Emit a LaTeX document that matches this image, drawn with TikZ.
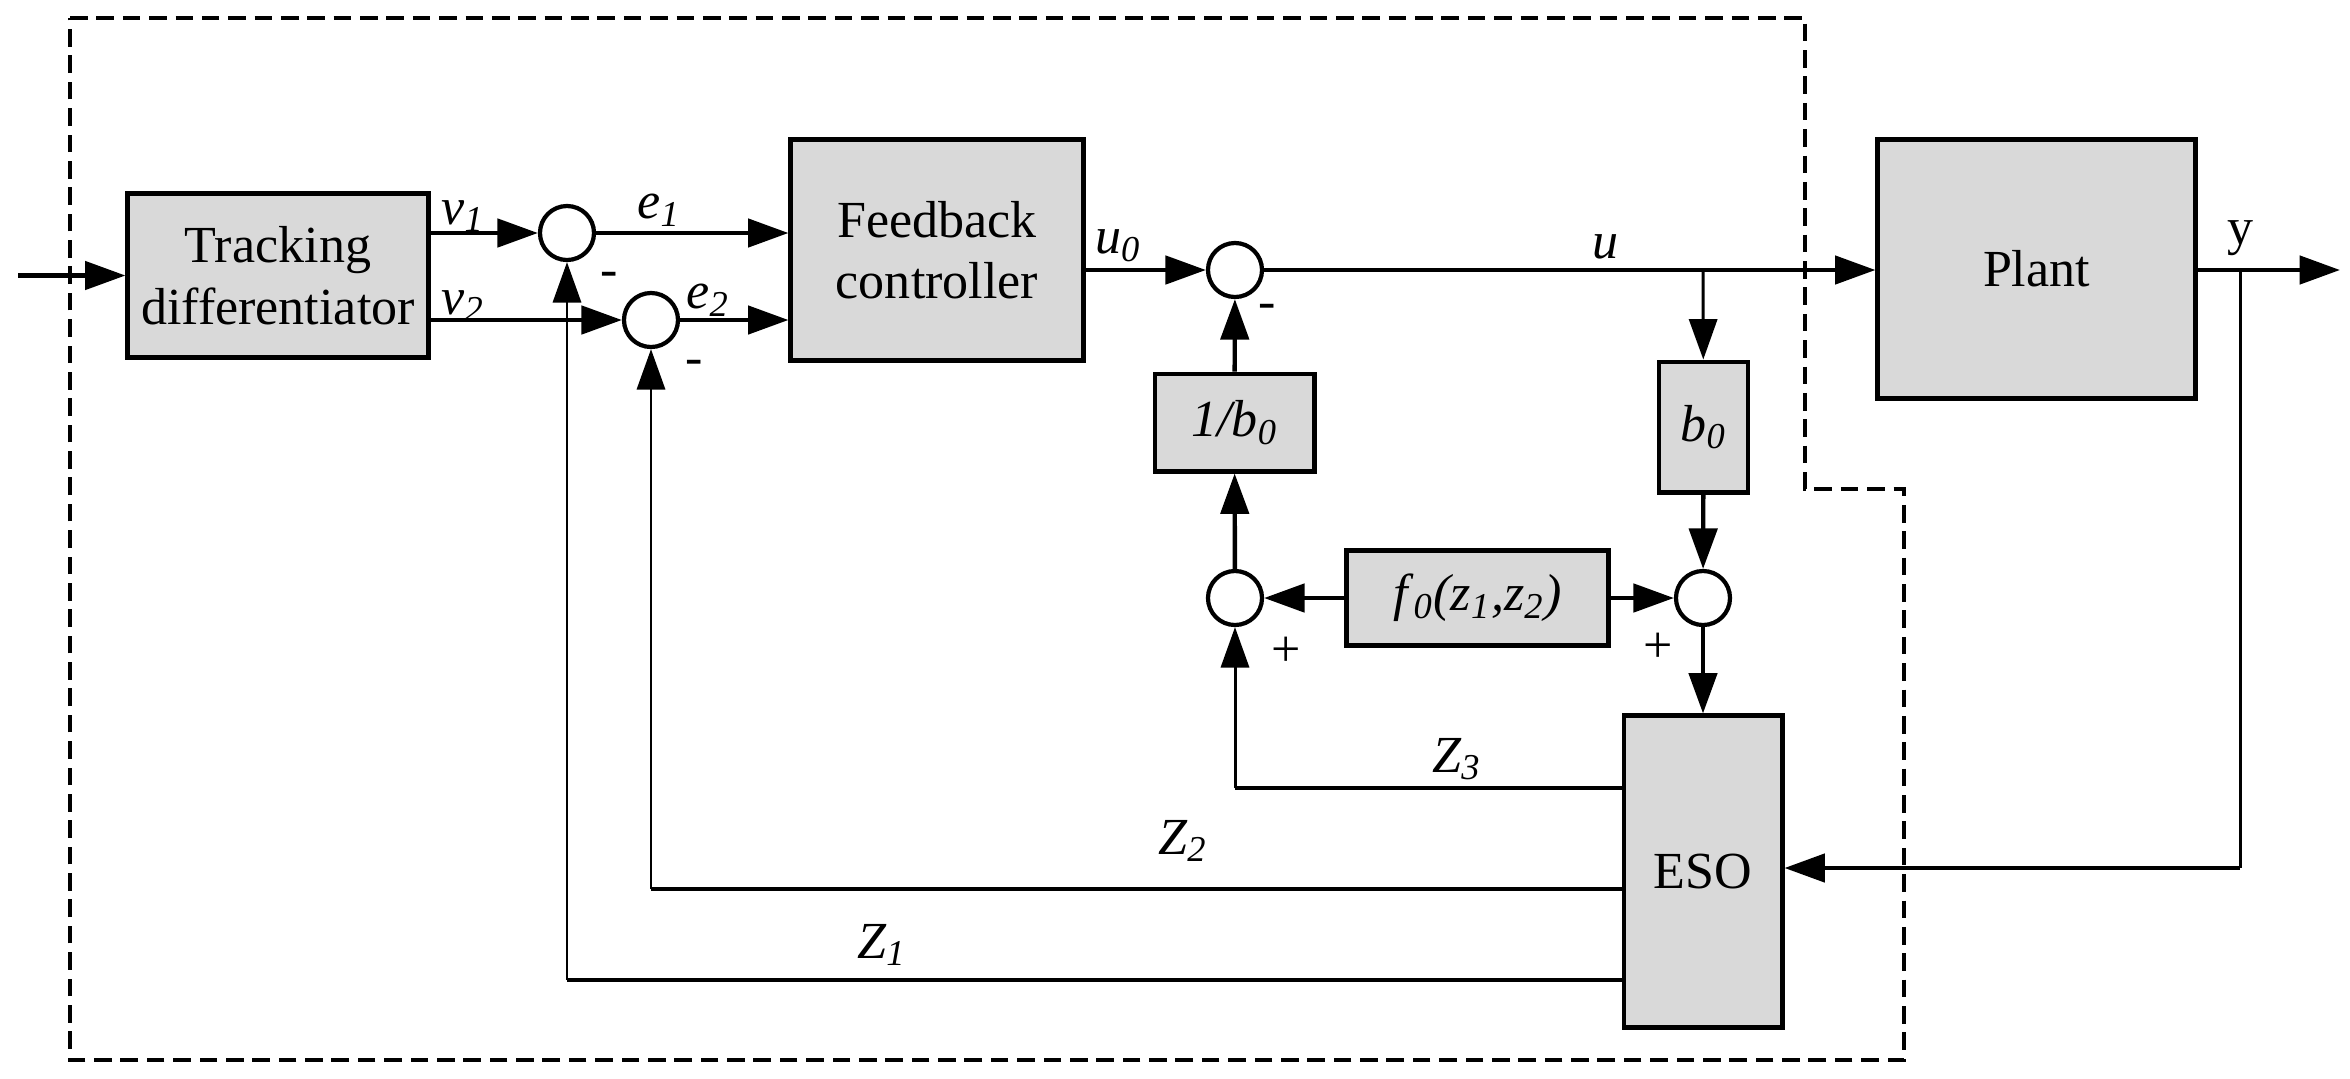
\documentclass[tikz,border=0pt]{standalone}
\usepackage{fontspec}
\setmainfont{Liberation Serif}
\usetikzlibrary{arrows.meta}
\definecolor{boxgray}{RGB}{217,217,217}
\begin{document}
\begin{tikzpicture}[x=0.01cm,y=-0.01cm,
  blk/.style={draw,line width=1.4pt,fill=boxgray,align=center,inner sep=0pt,font=\fontsize{14.8}{17.5}\selectfont},
  sumn/.style={draw,circle,line width=1.2pt,minimum size=0.54cm,inner sep=0pt,fill=white},
  sig/.style={line width=1.25pt},
  fb/.style={line width=0.85pt},
  arr/.style={-{Triangle[length=11.5pt,width=8pt]}},
  lbl/.style={font=\fontsize{14.8}{17.5}\selectfont\itshape,inner sep=0pt},
  sgn/.style={font=\fontsize{14.8}{17.5}\selectfont,inner sep=0pt},
  frame/.style={line width=1.1pt,dash pattern=on 5pt off 2.5pt}]
\useasboundingbox (0,0) rectangle (2350,1078);
% dashed frame
\draw[frame] (70,18) -- (1805,18) -- (1805,489) -- (1904,489) -- (1904,1060) -- (70,1060) -- cycle;
% blocks
\node[blk,minimum width=3cm,minimum height=1.63cm] (td) at (278,275.5) {Tracking\\differentiator};
\node[blk,minimum width=2.92cm,minimum height=2.2cm] (fc) at (937,250) {Feedback\\controller};
\node[blk,minimum width=3.17cm,minimum height=2.58cm] (pl) at (2036.5,269) {Plant};
\node[blk,minimum width=1.58cm,minimum height=3.11cm] (eso) at (1703,871.5) {ESO};
\node[blk,minimum width=0.89cm,minimum height=1.3cm] (b0) at (1703.5,427) {\textit{b}\textsubscript{\textit{0}}};
\node[blk,minimum width=1.59cm,minimum height=0.97cm] (ib0) at (1234.5,422.5) {\textit{1/b}\textsubscript{\textit{0}}};
\node[blk,minimum width=2.61cm,minimum height=0.95cm] (f0) at (1477.5,598) {\textit{f}\textsubscript{\textit{0}}\textit{(z}\textsubscript{\textit{1}}\textit{,z}\textsubscript{\textit{2}}\textit{)}};
% summing junctions
\node[sumn] (s1) at (567,233) {};
\node[sumn] (s2) at (651,320) {};
\node[sumn] (s3) at (1235,270) {};
\node[sumn] (s4) at (1703,598) {};
\node[sumn] (s5) at (1235,598) {};
% coordinates
\coordinate (in) at (18,275.5);
\coordinate (out) at (2340,270);
\coordinate (yb) at (2240,270);
\coordinate (ye) at (2240,868);
\coordinate (ub) at (1703,270);
\coordinate (z3) at (1235,788);
\coordinate (z2) at (651,889);
\coordinate (z1) at (567,980);
% forward connectors
\draw[sig,arr] (in) -- (td);
\draw[sig,arr] (td.east |- s1) -- (s1);
\draw[sig,arr] (td.east |- s2) -- (s2);
\draw[sig,arr] (s1) -- (fc.west |- s1);
\draw[sig,arr] (s2) -- (fc.west |- s2);
\draw[sig,arr] (fc.east |- s3) -- (s3);
\draw[sig,arr] (s3) -- (pl.west |- s3);
\draw[sig,arr] (pl.east |- s3) -- (out);
% inner loop
\draw[fb,arr] (ub) -- (b0);
\draw[sig,arr] (b0) -- (s4);
\draw[sig,arr] (s4) -- (eso);
\draw[sig,arr] (f0) -- (s4);
\draw[sig,arr] (f0) -- (s5);
\draw[sig,arr] (s5) -- (ib0);
\draw[sig,arr] (ib0) -- (s3);
% output to ESO
\draw[fb] (yb) -- (ye);
\draw[sig,arr] (ye) -- (eso.east |- ye);
% ESO feedback
\draw[sig] (eso.west |- z3) -- (z3);
\draw[fb,arr] (z3) -- (s5);
\draw[sig] (eso.west |- z2) -- (z2);
\draw[fb,arr] (z2) -- (s2);
\draw[sig] (eso.west |- z1) -- (z1);
\draw[fb,arr] (z1) -- (s1);
% labels
\node[lbl] at (463,216) {v\textsubscript{1}};
\node[lbl] at (463,306) {v\textsubscript{2}};
\node[lbl] at (659,210) {e\textsubscript{1}};
\node[lbl] at (708,300) {e\textsubscript{2}};
\node[lbl] at (1118,246) {u\textsubscript{0}};
\node[lbl] at (1605,247) {u};
\node[sgn] at (2240,238) {y};
\node[sgn] at (609,279) {-};
\node[sgn] at (694,367) {-};
\node[sgn] at (1267,311) {-};
\node[sgn] at (1286,652) {+};
\node[sgn] at (1658,648) {+};
\node[lbl] at (1457,759) {Z\textsubscript{3}};
\node[lbl] at (1183,841) {Z\textsubscript{2}};
\node[lbl] at (882,945) {Z\textsubscript{1}};
\end{tikzpicture}
\end{document}
